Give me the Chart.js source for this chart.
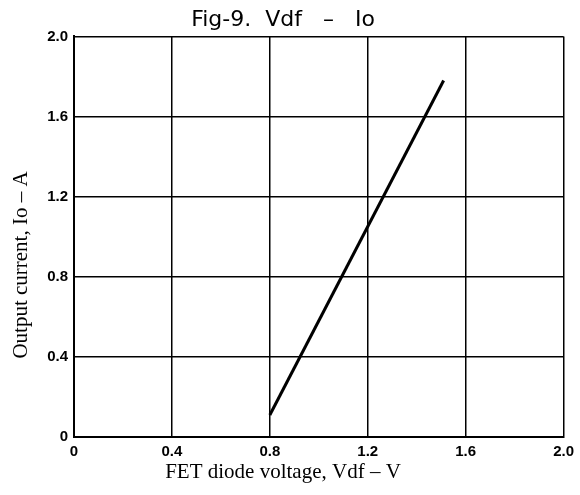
<!DOCTYPE html>
<html>
<head>
<meta charset="utf-8">
<script src="https://cdn.jsdelivr.net/npm/chart.js@4/dist/chart.umd.min.js"></script>
<style>
    html, body { margin: 0; padding: 0; background: #fff; }
    #wrap { width: 580px; height: 495px; }
</style>
</head>
<body>
<div id="wrap"><canvas id="grafico"></canvas></div>
<script>
// Datos
const vdf = [0.8, 1.51];          // FET diode voltage (V)
const io = [0.11, 1.78];          // Output current (A)
const xTicks = [0, 0.4, 0.8, 1.2, 1.6, 2.0];
const yTicks = [0, 0.4, 0.8, 1.2, 1.6, 2.0];
const xTitle = 'FET diode voltage, Vdf \u2013 V';
const yTitle = 'Output current, Io \u2013 A';

// Formato de etiquetas: "0" y luego un decimal
function fmt(v) {
    return v === 0 ? '0' : v.toFixed(1);
}

const puntos = vdf.map((v, i) => ({ x: v, y: io[i] }));

const tickFont = { family: 'Liberation Sans', size: 15, weight: 'bold' };

// Titulos de ejes: en la figura escaneada no estan centrados en el area
const axisTitles = {
    id: 'axisTitles',
    afterDraw(chart) {
        const ctx = chart.ctx;
        ctx.save();
        ctx.fillStyle = '#000';
        ctx.font = '21px "Liberation Serif"';
        ctx.textAlign = 'center';
        ctx.textBaseline = 'middle';
        ctx.fillText(xTitle, 283, 472);
        ctx.translate(21, 265);
        ctx.rotate(-Math.PI / 2);
        ctx.fillText(yTitle, 0, 0);
        ctx.restore();
    }
};

new Chart(document.getElementById('grafico'), {
    type: 'scatter',
    data: {
        datasets: [{
            data: puntos,
            showLine: true,
            borderColor: '#000',
            borderWidth: 3,
            pointRadius: 0,
            tension: 0
        }]
    },
    plugins: [axisTitles],
    options: {
        responsive: true,
        maintainAspectRatio: false,
        animation: false,
        layout: { padding: { left: 0, right: 14, top: 0, bottom: 0 } },
        plugins: {
            legend: { display: false },
            tooltip: { enabled: false },
            title: {
                display: true,
                text: 'Fig-9.  Vdf   \u2013   Io',
                color: '#000',
                font: { family: 'DejaVu Sans', size: 22, weight: 'normal' },
                padding: { top: 7, bottom: 3 }
            }
        },
        scales: {
            x: {
                type: 'linear',
                min: 0,
                max: 2,
                afterBuildTicks: s => { s.ticks = xTicks.map(v => ({ value: v })); },
                afterFit: s => { s.height = 58; },
                ticks: {
                    color: '#000',
                    font: tickFont,
                    padding: 6,
                    maxRotation: 0,
                    callback: v => fmt(v)
                },
                grid: { color: '#000', lineWidth: 1.5, drawTicks: false },
                border: { color: '#000', width: 2 }
            },
            y: {
                type: 'linear',
                min: 0,
                max: 2,
                afterBuildTicks: s => { s.ticks = yTicks.map(v => ({ value: v })); },
                afterFit: s => { s.width = 74; },
                ticks: {
                    color: '#000',
                    font: tickFont,
                    padding: 6,
                    callback: v => fmt(v)
                },
                grid: { color: '#000', lineWidth: 1.5, drawTicks: false },
                border: { color: '#000', width: 2 }
            }
        }
    }
});
</script>
</body>
</html>
